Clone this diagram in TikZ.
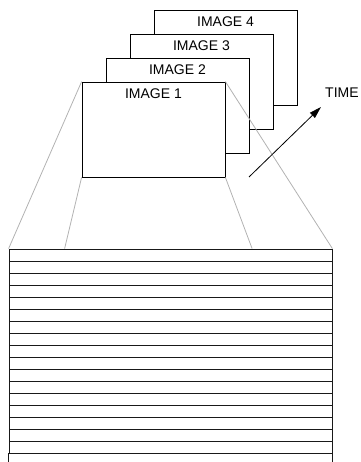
\documentclass[tikz,border=0pt]{standalone}
\usepackage{fontspec}
\setmainfont{Liberation Sans}
\usetikzlibrary{arrows.meta,positioning,calc}

\begin{document}
\begin{tikzpicture}[x=1pt, y=-1pt,
    frame/.style={rectangle, draw=black, line width=0.8pt, fill=white,
                  minimum width=143pt, minimum height=95pt, inner sep=0pt},
    lbl/.style={font=\fontsize{14}{16}\selectfont, inner sep=0pt},
    stripbox/.style={rectangle, draw=black!90, line width=0.8pt,
                  minimum width=323pt, minimum height=204pt, inner sep=0pt},
    guide/.style={draw=black!30, line width=0.8pt},
    arr/.style={-{Triangle[length=12pt,width=7pt]}, line width=0.8pt}]
\useasboundingbox (0,0) rectangle (360,462);
% frames, back to front
\foreach \i/\d in {4/72,3/48,2/24,1/0} {
  \node[frame] (img\i) at (153.5+\d, 129.5-\d) {};
  \node[lbl, below=7pt of img\i.north] (t\i) {IMAGE \i};
}
% scan lines
\node[stripbox] (strip) at (170.5, 351) {};
\foreach \k in {1,...,16} \draw[black!90, line width=0.8pt] (9, 249+12*\k) -- (332, 249+12*\k);
\draw[black!90, line width=0.8pt] (strip.south west) -- ++(0,9);
\draw[black!90, line width=0.8pt] (strip.south east) -- ++(0,9);
\coordinate (sa) at ($(strip.north west)!0.173!(strip.north east)$);
\coordinate (sb) at ($(strip.north west)!0.752!(strip.north east)$);
\draw[guide] (img1.north west) -- (strip.north west);
\draw[guide] (img1.south west) -- (sa);
\draw[guide] (img1.south east) -- (sb);
\draw[guide] (img1.north east) -- (strip.north east);
% time axis
\node[lbl, anchor=west] (time) at (325,93) {TIME};
\coordinate (t0) at (249,177);
\coordinate (t1) at (321,107);
\draw[arr] (t0) -- (t1);
\end{tikzpicture}
\end{document}
